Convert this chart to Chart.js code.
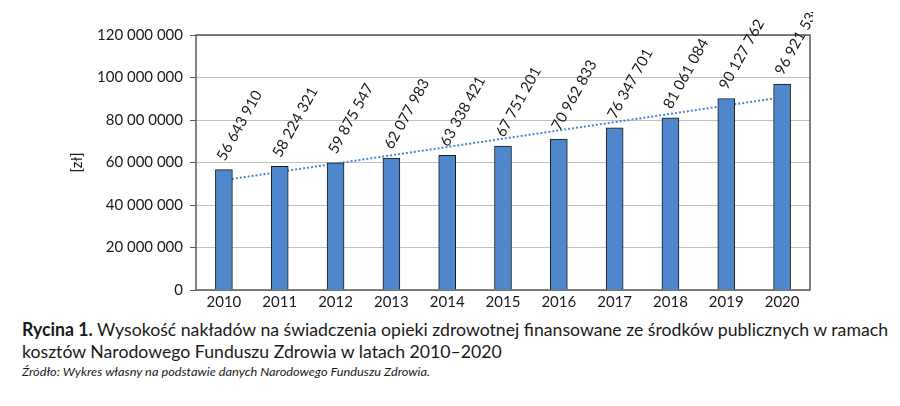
<!DOCTYPE html>
<html>
<head>
<meta charset="utf-8">
<script src="https://cdn.jsdelivr.net/npm/chart.js@4"></script>
<style>
  body { margin: 0; background: #fff; width: 900px; height: 406px; position: relative; overflow: hidden; }
  #wrap { position: absolute; left: 0; top: 12px; width: 813px; height: 302px; }
  .cap { position: absolute; left: 22px; font-family: Lato, sans-serif; color: #1a1a1a; white-space: nowrap; transform-origin: 0 0; }
  #cap1 { top: 318px; font-size: 18px; line-height: 22px; }
  #src { top: 364px; font-size: 12px; font-style: italic; }
</style>
</head>
<body>
<div id="wrap"><canvas id="costChart"></canvas></div>
<div class="cap" id="cap1"><span id="line1"><b>Rycina 1.</b> Wysokość nakładów na świadczenia opieki zdrowotnej finansowane ze środków publicznych w ramach</span><br>kosztów Narodowego Funduszu Zdrowia w latach 2010–2020</div>
<div class="cap" id="src">Źródło: Wykres własny na podstawie danych Narodowego Funduszu Zdrowia.</div>
<script>
const years = ['2010', '2011', '2012', '2013', '2014', '2015', '2016', '2017', '2018', '2019', '2020'];
const costs = [56643910, 58224321, 59875547, 62077983, 63338421, 67751201, 70962833, 76347701, 81061084, 90127762, 96921530];
const costLabels = ['56 643 910', '58 224 321', '59 875 547', '62 077 983', '63 338 421', '67 751 201', '70 962 833', '76 347 701', '81 061 084', '90 127 762', '96 921 530'];
// trend line ends
const trend = [51700000, null, null, null, null, null, null, null, null, null, 90700000];
const yTickLabels = ['0', '20 000 000', '40 000 000', '60 000 000', '80 00 0000', '100 000 000', '120 000 000'];

Chart.defaults.font.family = 'Lato';
Chart.defaults.color = '#1a1a1a';

// frame around the plot area
const frame = {
    id: 'frame',
    beforeDatasetsDraw(chart) {
        const a = chart.chartArea, ctx = chart.ctx;
        ctx.save();
        ctx.strokeStyle = '#595959';
        ctx.lineWidth = 1.5;
        ctx.strokeRect(a.left, a.top, a.right - a.left, a.bottom - a.top);
        ctx.restore();
    }
};

// rotated value labels above bars
const valueLabels = {
    id: 'valueLabels',
    afterDatasetsDraw(chart) {
        const ctx = chart.ctx;
        const meta = chart.getDatasetMeta(0);
        ctx.save();
        ctx.font = '15px Lato';
        ctx.fillStyle = '#1a1a1a';
        ctx.textBaseline = 'alphabetic';
        meta.data.forEach((bar, i) => {
            ctx.save();
            ctx.translate(bar.x + 1, bar.y - 8);
            ctx.rotate(-61 * Math.PI / 180);
            ctx.fillText(costLabels[i], 0, 0);
            ctx.restore();
        });
        ctx.restore();
    }
};

// squeeze caption lines to the width they take in the original
function fitWidth(el, target) {
    const w = el.getBoundingClientRect().width;
    el.style.transform = 'scaleX(' + (target / w) + ')';
}

function drawChart() {
    new Chart(document.getElementById('costChart').getContext('2d'), {
        type: 'bar',
        data: {
            labels: years,
            datasets: [{
                data: costs,
                backgroundColor: '#4e87cb',
                borderColor: '#1a1a1a',
                borderWidth: 1,
                barThickness: 17,
                order: 0
            }, {
                type: 'line',
                data: trend,
                spanGaps: true,
                borderColor: '#4a86d0',
                borderWidth: 2,
                borderDash: [2, 2],
                pointRadius: 0,
                fill: false,
                order: 1
            }]
        },
        options: {
            responsive: true,
            maintainAspectRatio: false,
            animation: false,
            layout: { padding: { left: 68, top: 23, right: 3, bottom: 0 } },
            plugins: {
                legend: { display: false },
                tooltip: { enabled: false }
            },
            scales: {
                x: {
                    grid: { display: false, drawTicks: false },
                    border: { display: false },
                    ticks: { font: { size: 15 }, padding: 3, maxRotation: 0 }
                },
                y: {
                    min: 0,
                    max: 120000000,
                    afterFit(scale) { scale.width = 128; },
                    border: { display: false },
                    grid: { color: '#c0c0c0', lineWidth: 1, tickLength: 6, tickColor: '#595959' },
                    ticks: {
                        stepSize: 20000000,
                        font: { size: 15 },
                        padding: 7,
                        callback: (v, i) => yTickLabels[i]
                    },
                    title: { display: true, text: '[zł]', font: { size: 15 }, padding: 0 }
                }
            }
        },
        plugins: [frame, valueLabels]
    });
    const line1 = document.getElementById('line1');
    const s = 866 / line1.getBoundingClientRect().width;
    document.getElementById('cap1').style.transform = 'scaleX(' + s + ')';
    fitWidth(document.getElementById('src'), 408);
}

Promise.all([
    document.fonts.load('15px Lato'),
    document.fonts.load('bold 18px Lato'),
    document.fonts.load('italic 12px Lato')
]).then(drawChart, drawChart);
</script>
</body>
</html>
